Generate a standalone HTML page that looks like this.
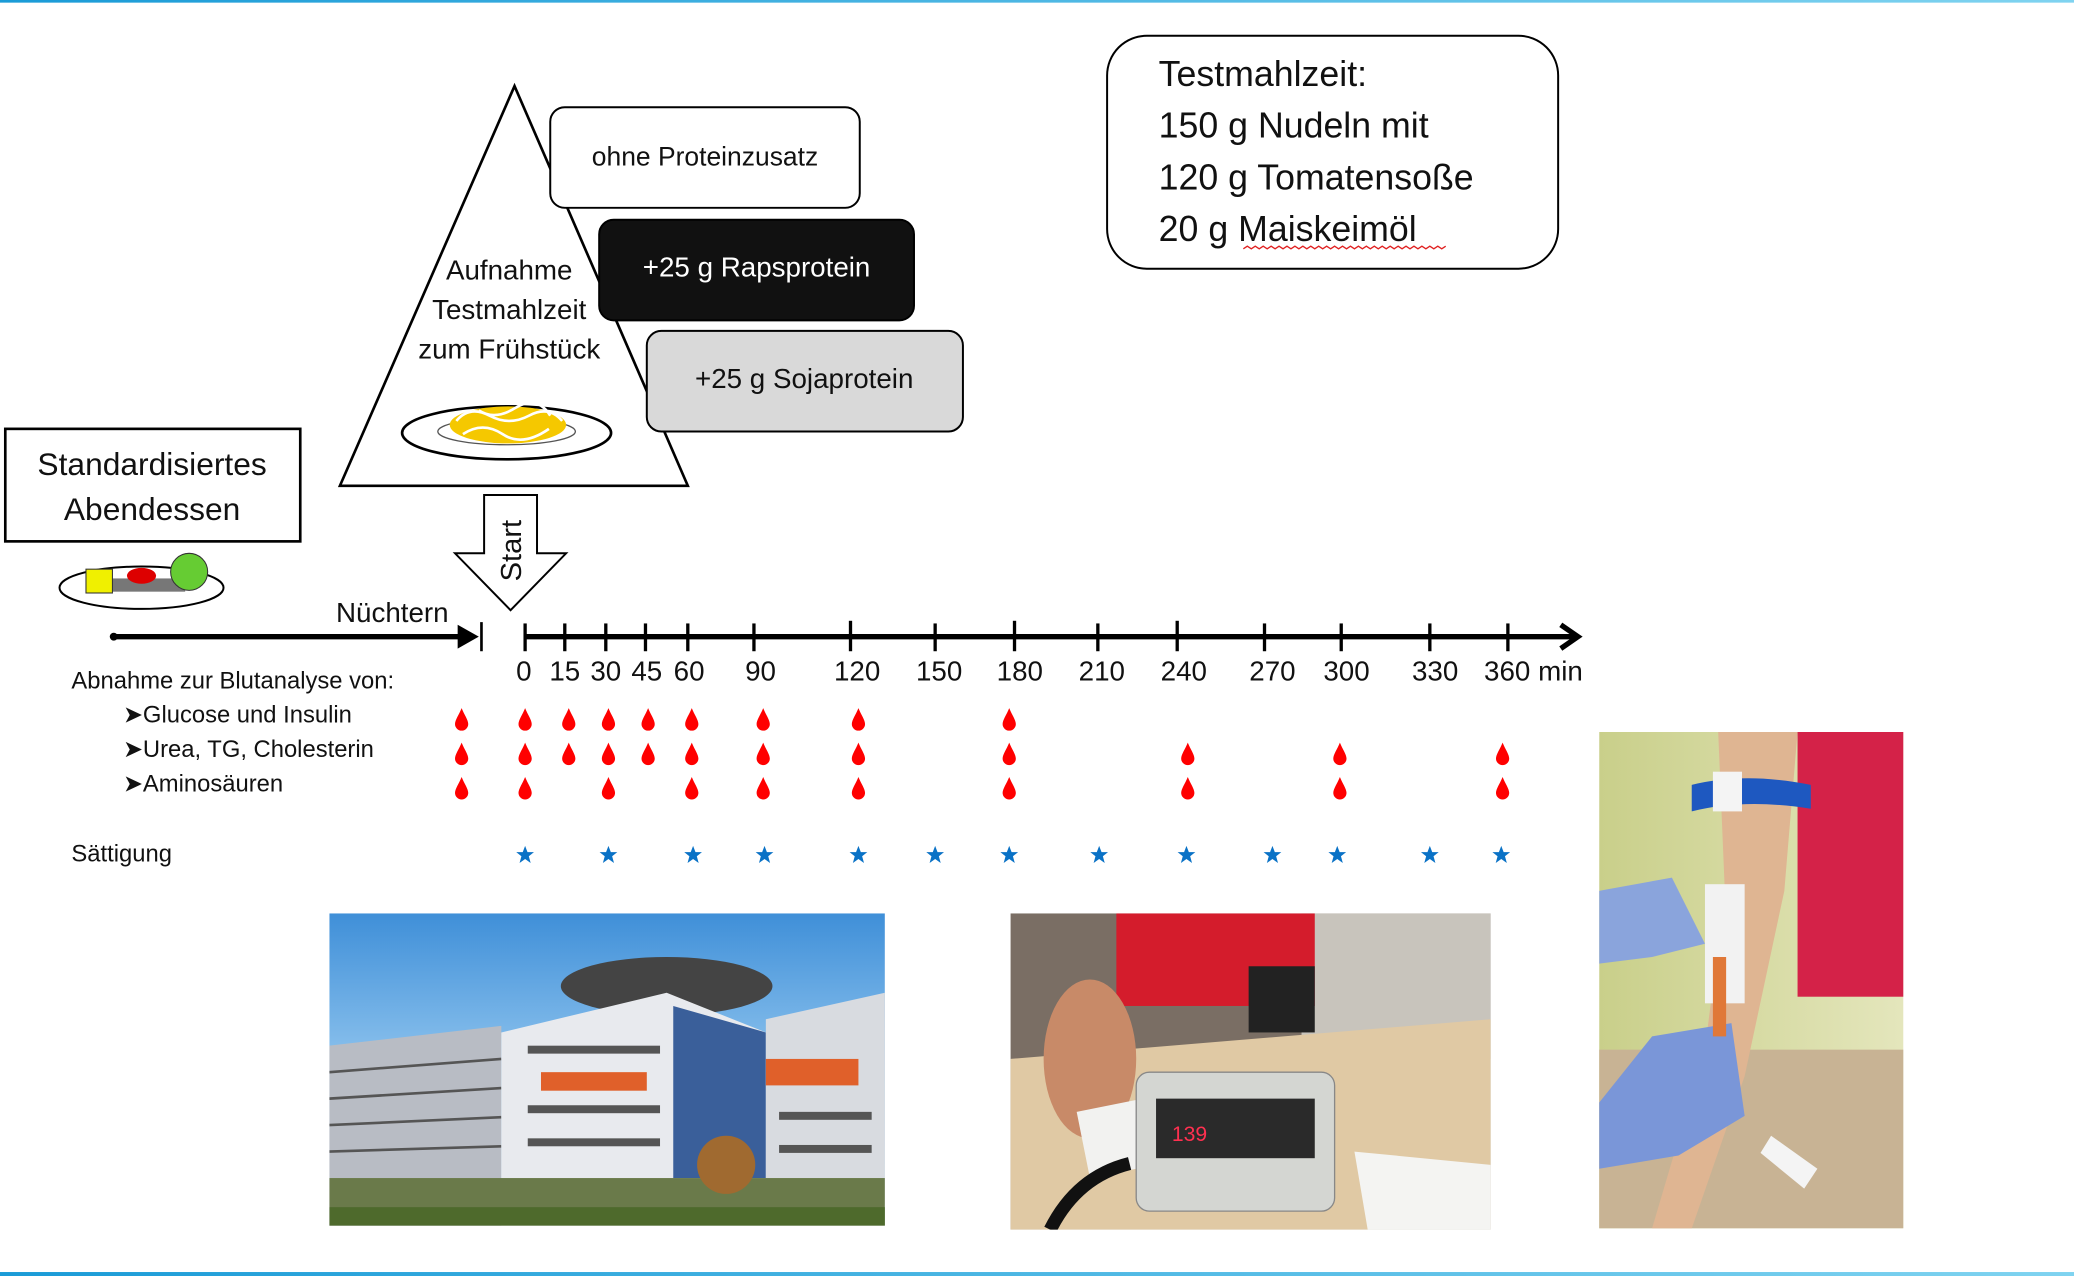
<!DOCTYPE html>
<html><head><meta charset="utf-8"><style>
html,body{margin:0;padding:0;background:#fff;width:2074px;height:1276px;overflow:hidden}
svg{display:block}
text{font-family:"Liberation Sans",sans-serif;fill:#111}
</style></head><body>
<svg width="2074" height="1276" viewBox="0 0 1568 964" preserveAspectRatio="none" xmlns="http://www.w3.org/2000/svg">
<defs>
<linearGradient id="tl" x1="0" x2="1"><stop offset="0" stop-color="#1a9bd7"/><stop offset="1" stop-color="#7fd3f0"/></linearGradient>
<linearGradient id="sky" x1="0" y1="0" x2="0" y2="1"><stop offset="0" stop-color="#3f8fd8"/><stop offset="0.5" stop-color="#8fc4ee"/><stop offset="1" stop-color="#cfe3f5"/></linearGradient>
<linearGradient id="wall" x1="0" x2="1"><stop offset="0" stop-color="#c9cf8a"/><stop offset="1" stop-color="#e4e6bc"/></linearGradient>
<path id="drop" d="M0,-8 C2,-3 5,1 5,4 A5,5 0 0 1 -5,4 C-5,1 -2,-3 0,-8Z"/>
<path id="star" d="M0,-7 L1.8,-2.2 L6.7,-2.2 L2.8,0.9 L4.2,6 L0,3 L-4.2,6 L-2.8,0.9 L-6.7,-2.2 L-1.8,-2.2Z"/>
</defs>
<rect x="0" y="0" width="1568" height="2" fill="url(#tl)"/>
<rect x="0" y="961" width="1568" height="3" fill="url(#tl)"/>

<!-- triangle -->
<polygon points="389,65 257,367 520,367" fill="#fff" stroke="#000" stroke-width="2"/>
<text x="385" y="211" font-size="21" text-anchor="middle">Aufnahme</text>
<text x="385" y="241" font-size="21" text-anchor="middle">Testmahlzeit</text>
<text x="385" y="271" font-size="21" text-anchor="middle">zum Frühstück</text>
<ellipse cx="383" cy="327" rx="79" ry="20" fill="#fff" stroke="#000" stroke-width="2"/>
<ellipse cx="383" cy="326" rx="52" ry="10" fill="none" stroke="#555" stroke-width="1"/>
<ellipse cx="384" cy="321" rx="44" ry="14" fill="#f5c800"/>
<path d="M345,318 q10,-12 25,-4 t30,0 t25,4 M350,328 q15,-10 30,0 t35,-4 M362,310 q12,8 28,-2 t26,6" stroke="#fff" stroke-width="2" fill="none"/>

<!-- option boxes -->
<rect x="416" y="81" width="234" height="76" rx="11" fill="#fff" stroke="#000" stroke-width="1.5"/>
<text x="533" y="125" font-size="20" text-anchor="middle">ohne Proteinzusatz</text>
<rect x="453" y="166" width="238" height="76" rx="11" fill="#111" stroke="#000" stroke-width="1.5"/>
<text x="572" y="209" font-size="21" text-anchor="middle" style="fill:#fff">+25 g Rapsprotein</text>
<rect x="489" y="250" width="239" height="76" rx="11" fill="#d9d9d9" stroke="#000" stroke-width="1.5"/>
<text x="608" y="293" font-size="21" text-anchor="middle">+25 g Sojaprotein</text>

<!-- Testmahlzeit box -->
<rect x="837" y="27" width="341" height="176" rx="30" fill="#fff" stroke="#000" stroke-width="1.5"/>
<text x="876" y="65" font-size="27">Testmahlzeit:</text>
<text x="876" y="104" font-size="27">150 g Nudeln mit</text>
<text x="876" y="143" font-size="27">120 g Tomatensoße</text>
<text x="876" y="182" font-size="27">20 g Maiskeimöl</text>
<path d="M940,188 l3,-2 l3,2 l3,-2 l3,2 l3,-2 l3,2 l3,-2 l3,2 l3,-2 l3,2 l3,-2 l3,2 l3,-2 l3,2 l3,-2 l3,2 l3,-2 l3,2 l3,-2 l3,2 l3,-2 l3,2 l3,-2 l3,2 l3,-2 l3,2 l3,-2 l3,2 l3,-2 l3,2 l3,-2 l3,2 l3,-2 l3,2 l3,-2 l3,2 l3,-2 l3,2 l3,-2 l3,2 l3,-2 l3,2 l3,-2 l3,2 l3,-2 l3,2 l3,-2 l3,2 l3,-2 l3,2 l3,-2" stroke="#e02020" stroke-width="1" fill="none"/>

<!-- Standardisiertes box -->
<rect x="4" y="324" width="223" height="85" fill="#fff" stroke="#000" stroke-width="2"/>
<text x="115" y="359" font-size="24" text-anchor="middle">Standardisiertes</text>
<text x="115" y="393" font-size="24" text-anchor="middle">Abendessen</text>
<ellipse cx="107" cy="444" rx="62" ry="16" fill="#fff" stroke="#000" stroke-width="1.5"/>
<rect x="85" y="437" width="55" height="10" fill="#777"/>
<rect x="65" y="430" width="20" height="18" fill="#f0f000" stroke="#333" stroke-width="0.8"/>
<ellipse cx="107" cy="435" rx="11" ry="6" fill="#d00"/>
<circle cx="143" cy="432" r="14" fill="#6c3" stroke="#333" stroke-width="0.8"/>

<!-- Start arrow -->
<polygon points="366,374 406,374 406,418 428,418 386,461 344,418 366,418" fill="#fff" stroke="#000" stroke-width="1.5"/>
<text x="0" y="0" font-size="22" text-anchor="middle" transform="translate(394,416) rotate(-90)">Start</text>

<!-- Nüchtern -->
<text x="254" y="470" font-size="21">Nüchtern</text>
<line x1="86" y1="481" x2="350" y2="481" stroke="#000" stroke-width="4"/>
<circle cx="86" cy="481" r="3"/>
<polygon points="346,472 362,481 346,490"/>
<line x1="364" y1="470" x2="364" y2="492" stroke="#000" stroke-width="2"/>

<!-- timeline -->
<line x1="396" y1="481" x2="1192" y2="481" stroke="#000" stroke-width="4"/>
<polyline points="1180,472 1193,481 1180,490" fill="none" stroke="#000" stroke-width="4"/>
<g stroke="#000" stroke-width="2.5">
<line x1="397" y1="471" x2="397" y2="492"/><line x1="427" y1="471" x2="427" y2="492"/><line x1="458" y1="471" x2="458" y2="492"/><line x1="488" y1="471" x2="488" y2="492"/><line x1="520" y1="471" x2="520" y2="492"/><line x1="570" y1="471" x2="570" y2="492"/><line x1="643" y1="469" x2="643" y2="492"/><line x1="707" y1="471" x2="707" y2="492"/><line x1="767" y1="469" x2="767" y2="492"/><line x1="830" y1="471" x2="830" y2="492"/><line x1="890" y1="469" x2="890" y2="492"/><line x1="956" y1="471" x2="956" y2="492"/><line x1="1014" y1="471" x2="1014" y2="492"/><line x1="1081" y1="471" x2="1081" y2="492"/><line x1="1140" y1="471" x2="1140" y2="492"/>
</g>
<g font-size="21" text-anchor="middle">
<text x="396" y="514">0</text><text x="427" y="514">15</text><text x="458" y="514">30</text><text x="489" y="514">45</text><text x="521" y="514">60</text><text x="575" y="514">90</text><text x="648" y="514">120</text><text x="710" y="514">150</text><text x="771" y="514">180</text><text x="833" y="514">210</text><text x="895" y="514">240</text><text x="962" y="514">270</text><text x="1018" y="514">300</text><text x="1085" y="514">330</text>
</g>
<text x="1122" y="514" font-size="21">360 min</text>

<text x="54" y="520" font-size="18">Abnahme zur Blutanalyse von:</text>
<text x="93" y="546" font-size="18">➤Glucose und Insulin</text>
<text x="93" y="572" font-size="18">➤Urea, TG, Cholesterin</text>
<text x="93" y="598" font-size="18">➤Aminosäuren</text>
<text x="54" y="651" font-size="18">Sättigung</text>

<g fill="#f00">
<use href="#drop" x="349" y="543"/><use href="#drop" x="397" y="543"/><use href="#drop" x="430" y="543"/><use href="#drop" x="460" y="543"/><use href="#drop" x="490" y="543"/><use href="#drop" x="523" y="543"/><use href="#drop" x="577" y="543"/><use href="#drop" x="649" y="543"/><use href="#drop" x="763" y="543"/>
<use href="#drop" x="349" y="569"/><use href="#drop" x="397" y="569"/><use href="#drop" x="430" y="569"/><use href="#drop" x="460" y="569"/><use href="#drop" x="490" y="569"/><use href="#drop" x="523" y="569"/><use href="#drop" x="577" y="569"/><use href="#drop" x="649" y="569"/><use href="#drop" x="763" y="569"/><use href="#drop" x="898" y="569"/><use href="#drop" x="1013" y="569"/><use href="#drop" x="1136" y="569"/>
<use href="#drop" x="349" y="595"/><use href="#drop" x="397" y="595"/><use href="#drop" x="460" y="595"/><use href="#drop" x="523" y="595"/><use href="#drop" x="577" y="595"/><use href="#drop" x="649" y="595"/><use href="#drop" x="763" y="595"/><use href="#drop" x="898" y="595"/><use href="#drop" x="1013" y="595"/><use href="#drop" x="1136" y="595"/>
</g>
<g fill="#0a72c6">
<use href="#star" x="397" y="646"/><use href="#star" x="460" y="646"/><use href="#star" x="524" y="646"/><use href="#star" x="578" y="646"/><use href="#star" x="649" y="646"/><use href="#star" x="707" y="646"/><use href="#star" x="763" y="646"/><use href="#star" x="831" y="646"/><use href="#star" x="897" y="646"/><use href="#star" x="962" y="646"/><use href="#star" x="1011" y="646"/><use href="#star" x="1081" y="646"/><use href="#star" x="1135" y="646"/>
</g>

<!-- photo 1: building -->
<svg x="249" y="690" width="420" height="236" viewBox="0 0 420 236" preserveAspectRatio="none">
<rect width="420" height="236" fill="url(#sky)"/>
<polygon points="0,100 130,85 130,236 0,236" fill="#b8bcc4"/>
<g stroke="#555" stroke-width="2"><line x1="0" y1="120" x2="130" y2="110"/><line x1="0" y1="140" x2="130" y2="132"/><line x1="0" y1="160" x2="130" y2="154"/><line x1="0" y1="180" x2="130" y2="176"/></g>
<ellipse cx="255" cy="55" rx="80" ry="22" fill="#444"/>
<polygon points="130,90 255,60 330,90 330,220 130,220" fill="#e8eaee"/>
<polygon points="260,70 330,90 330,200 260,200" fill="#3a5f9a"/>
<polygon points="330,80 420,60 420,220 330,220" fill="#d8dbe0"/>
<rect x="330" y="110" width="70" height="20" fill="#e0602a"/>
<rect x="160" y="120" width="80" height="14" fill="#e0602a"/>
<g fill="#555"><rect x="150" y="100" width="100" height="6"/><rect x="150" y="145" width="100" height="6"/><rect x="150" y="170" width="100" height="6"/><rect x="340" y="150" width="70" height="6"/><rect x="340" y="175" width="70" height="6"/></g>
<rect x="0" y="200" width="420" height="36" fill="#6a7a4a"/>
<rect x="0" y="222" width="420" height="14" fill="#4e6a2c"/>
<circle cx="300" cy="190" r="22" fill="#a06a30"/>
</svg>

<!-- photo 2: BP -->
<svg x="764" y="690" width="363" height="239" viewBox="0 0 363 239" preserveAspectRatio="none">
<rect width="363" height="239" fill="#7a6e64"/>
<rect x="220" y="0" width="143" height="110" fill="#c8c4bc"/>
<polygon points="0,110 363,80 363,239 0,239" fill="#e0c9a4"/>
<rect x="80" y="0" width="150" height="70" fill="#d41c2c"/>
<ellipse cx="60" cy="110" rx="35" ry="60" fill="#c88a68"/>
<polygon points="50,150 200,120 210,170 60,200" fill="#f2f2f0"/>
<rect x="180" y="40" width="50" height="50" fill="#222"/>
<rect x="95" y="120" width="150" height="105" rx="10" fill="#d4d6d2" stroke="#888"/>
<rect x="110" y="140" width="120" height="45" fill="#2a2a2a"/>
<text x="122" y="172" font-size="16" style="fill:#ff3050">139</text>
<path d="M30,239 q20,-40 60,-50" stroke="#111" stroke-width="10" fill="none"/>
<polygon points="260,180 363,190 363,239 270,239" fill="#f4f4f2"/>
</svg>

<!-- photo 3: arm -->
<svg x="1209" y="553" width="230" height="375" viewBox="0 0 230 375" preserveAspectRatio="none">
<rect width="230" height="375" fill="url(#wall)"/>
<rect x="150" y="0" width="80" height="200" fill="#d42248"/>
<rect x="0" y="240" width="230" height="135" fill="#c8b394"/>
<polygon points="90,0 150,0 140,120 110,260 70,375 40,375 80,240 95,120" fill="#dfb592"/>
<path d="M70,40 q40,-10 90,0 l0,18 q-50,-8 -90,2z" fill="#1e58c0"/>
<rect x="86" y="30" width="22" height="30" fill="#f4f4f4"/>
<polygon points="0,120 55,110 80,160 40,170 0,175" fill="#8aa4dc"/>
<polygon points="40,230 100,220 110,290 60,320 0,330 0,280" fill="#7a96d8"/>
<rect x="80" y="115" width="30" height="90" fill="#f2f2f2"/>
<rect x="86" y="170" width="10" height="60" fill="#e07838"/>
<polygon points="130,305 165,330 155,345 122,318" fill="#f4f4f4"/>
</svg>
</svg>
</body></html>
